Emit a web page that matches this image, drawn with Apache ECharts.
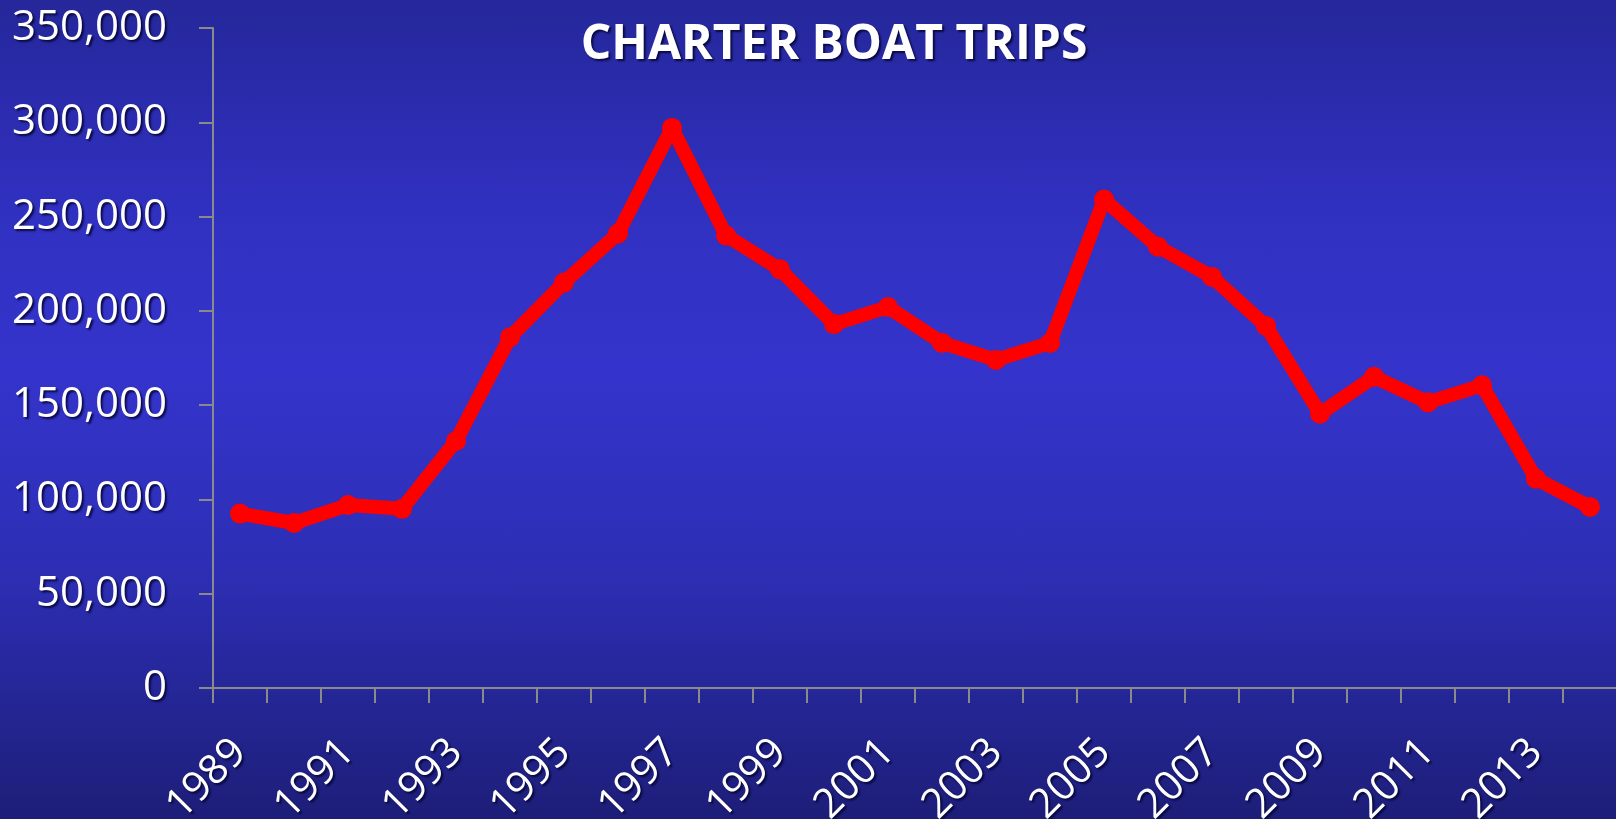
<!DOCTYPE html>
<html>
<head>
<meta charset="utf-8">
<script src="https://cdn.jsdelivr.net/npm/echarts@6/dist/echarts.min.js"></script>
<style>
  html, body { margin: 0; padding: 0; width: 1616px; height: 819px; overflow: hidden; }
  #chart {
    width: 1616px; height: 819px;
    background: linear-gradient(to bottom, #25279a 0%, #3030c0 25%, #3434cc 45%, #2d2eb4 70%, #1d1e78 100%);
  }
</style>
</head>
<body>
<div id="chart"></div>
<script>
const years = ['1989','1990','1991','1992','1993','1994','1995','1996','1997','1998','1999','2000','2001',
               '2002','2003','2004','2005','2006','2007','2008','2009','2010','2011','2012','2013','2014'];
const trips = [92500, 87500, 97000, 95000, 131000, 186000, 215000, 241000, 297000, 240000, 222000, 193000, 202000,
               183000, 174000, 183000, 259000, 234000, 218000, 192000, 145500, 165000, 151500, 160500, 111000, 96000];
const titleText = 'CHARTER BOAT TRIPS';
const yMin = 0, yMax = 350000, yStep = 50000;

const FONT = '"Open Sans", "Noto Sans", sans-serif';
const shadow = { textShadowColor: 'rgba(5,5,50,0.85)', textShadowBlur: 2, textShadowOffsetX: 2, textShadowOffsetY: 2 };

const chart = echarts.init(document.getElementById('chart'), null, { renderer: 'canvas' });
chart.setOption({
  backgroundColor: 'transparent',
  animation: false,
  title: {
    text: titleText,
    left: 829,
    textAlign: 'center',
    top: 11,
    textStyle: Object.assign({ color: '#ffffff', fontFamily: FONT, fontWeight: 'bold', fontSize: 48, lineHeight: 58 }, shadow)
  },
  grid: { left: 213, right: -1, top: 28, bottom: 131, containLabel: false, outerBoundsMode: 'none' },
  xAxis: {
    type: 'category',
    data: years,
    boundaryGap: true,
    axisLine: { lineStyle: { color: '#8a8a8a', width: 2 } },
    axisTick: { show: true, interval: 0, length: 15, lineStyle: { color: '#8a8a8a', width: 2 } },
    axisLabel: Object.assign({
      interval: 1, rotate: 45, margin: 58,
      color: '#ffffff', fontFamily: FONT, fontSize: 41
    }, shadow),
    splitLine: { show: false }
  },
  yAxis: {
    type: 'value',
    min: yMin, max: yMax, interval: yStep,
    axisLine: { show: true, lineStyle: { color: '#8a8a8a', width: 2 } },
    axisTick: { show: true, length: 14, lineStyle: { color: '#8a8a8a', width: 2 } },
    axisLabel: Object.assign({
      margin: 46,
      color: '#ffffff', fontFamily: FONT, fontSize: 42,
      formatter: v => v.toLocaleString('en-US')
    }, shadow),
    splitLine: { show: false }
  },
  series: [{
    type: 'line',
    data: trips,
    symbol: 'circle',
    symbolSize: 20,
    lineStyle: { color: '#ff0000', width: 14, join: 'round', cap: 'round' },
    itemStyle: { color: '#ff0000' },
    z: 3
  }]
});
</script>
</body>
</html>
